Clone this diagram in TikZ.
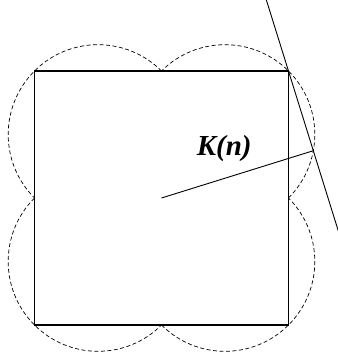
\documentclass[tikz,border=0pt]{standalone}
\usepackage{fontspec}
\setmainfont{Liberation Serif}
\usetikzlibrary{calc}
\begin{document}
\begin{tikzpicture}[x=1pt,y=1pt,
  solidline/.style={line width=1.1pt},
  arcline/.style={line width=0.7pt, dash pattern=on 4pt off 2.5pt},
  thinline/.style={line width=0.9pt},
  lbl/.style={font=\fontsize{29}{31}\selectfont\bfseries\itshape, inner sep=0pt}]
\useasboundingbox (-161.5,-163) rectangle (175.5,198);
\def\a{127}
\def\th{17.3}
\coordinate (O) at (0,0);
\coordinate (C) at (\a,\a);
\coordinate (E) at (\th:10);
\coordinate (P) at ($(O)!(C)!(E)$);
\coordinate (T) at ($(P)+(90+\th:158)$);
\coordinate (B) at ($(P)+(-90+\th:86)$);
% square
\draw[solidline] (-\a,-\a) rectangle (\a,\a);
% circle arcs
\draw[arcline] (-\a/2,\a/2) ++(45:{\a*0.70711}) arc[start angle=45, end angle=225, radius={\a*0.70711}];
\draw[arcline] (\a/2,\a/2) ++(-45:{\a*0.70711}) arc[start angle=-45, end angle=135, radius={\a*0.70711}];
\draw[arcline] (\a/2,-\a/2) ++(-135:{\a*0.70711}) arc[start angle=-135, end angle=45, radius={\a*0.70711}];
\draw[arcline] (-\a/2,-\a/2) ++(135:{\a*0.70711}) arc[start angle=135, end angle=315, radius={\a*0.70711}];
% lines
\draw[thinline] (O) -- (P);
\draw[thinline] (T) -- (B);
\node[lbl] (K) at (62.7,49.2) {K(n)};
\end{tikzpicture}
\end{document}
